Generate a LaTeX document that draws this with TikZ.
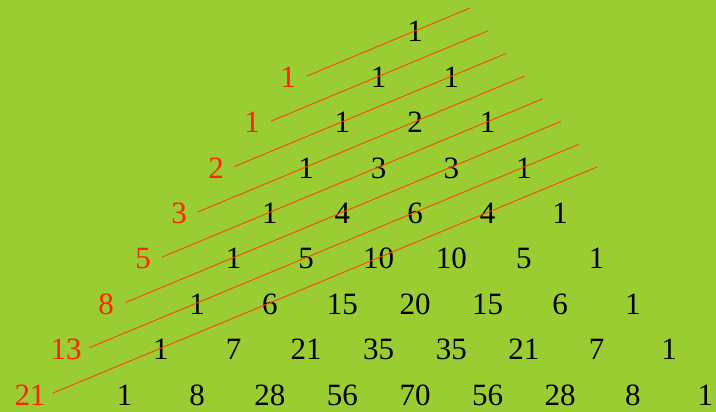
\documentclass[tikz,border=0pt]{standalone}
\usepackage{fontspec}
\setmainfont{Liberation Serif}
\definecolor{bg}{RGB}{154,205,50}
\definecolor{fibred}{RGB}{255,34,0}
\definecolor{diagline}{RGB}{255,69,0}
\begin{document}
\begin{tikzpicture}[x=1pt,y=-1pt,
  num/.style={anchor=base,inner sep=0pt,font=\fontsize{31}{31}\selectfont,text=black},
  fib/.style={num,text=fibred},
  diag/.style={draw=diagline,line width=0.9pt}]
\fill[bg] (0,0) rectangle (716,412);
\useasboundingbox (0,0) rectangle (716,412);
\foreach \row [count=\k from 0] in {{1},{1,1},{1,2,1},{1,3,3,1},{1,4,6,4,1},{1,5,10,10,5,1},{1,6,15,20,15,6,1},{1,7,21,35,35,21,7,1},{1,8,28,56,70,56,28,8,1}}{
  \foreach \v [count=\j from 0] in \row {
    \node[num] (p-\k-\j) at ({415+(2*\j-\k)*36.3},{42+45.375*\k}) {\v};
  }
}
\foreach \f/\cx [count=\k] in {1/288,1/252,2/216,3/179,5/143,8/106,13/66,21/30}{
  \node[fib] (f-\k) at (\cx,{42+45.375*\k}) {\f};
  \coordinate (s-\k) at ({307-36.29*(\k-1)},{76+45.29*(\k-1)});
  \coordinate (e-\k) at ({470+18.14*(\k-1)},{8+22.71*(\k-1)});
  \draw[diag] (s-\k) -- (e-\k);
}
\end{tikzpicture}
\end{document}
